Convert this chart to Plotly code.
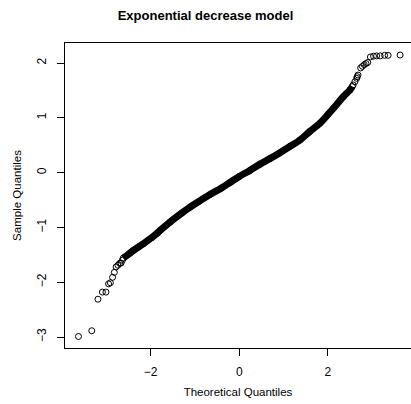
import plotly.graph_objects as go

# Lower tail points (theoretical quantile, sample quantile)
tail_low_x = [-3.63, -3.33, -3.19, -3.09, -3.01, -2.95, -2.91, -2.86, -2.82, -2.78, -2.74, -2.70, -2.67, -2.64]
tail_low_y = [-2.99, -2.885, -2.31, -2.18, -2.18, -2.03, -2.01, -1.91, -1.82, -1.72, -1.69, -1.655, -1.65, -1.60]

# Dense central band (read along the band's centre)
band_x = [-2.62, -2.47, -2.39, -2.17, -1.98, -1.86, -1.78, -1.56, -1.30, -1.11, -0.90, -0.66, -0.40,
          -0.21, 0.00, 0.24, 0.47, 0.70, 0.91, 1.15, 1.37, 1.59, 1.82, 2.00, 2.12, 2.35, 2.50, 2.55]
band_y = [-1.56, -1.47, -1.42, -1.30, -1.19, -1.11, -1.05, -0.90, -0.74, -0.63, -0.52, -0.40, -0.28,
          -0.18, -0.07, 0.04, 0.155, 0.26, 0.36, 0.48, 0.595, 0.75, 0.90, 1.06, 1.17, 1.385, 1.51, 1.57]

# Upper tail points
tail_high_x = [2.57, 2.61, 2.65, 2.66, 2.68, 2.74, 2.78, 2.82, 2.86, 2.90, 2.96, 3.03, 3.10, 3.18, 3.28, 3.36, 3.63]
tail_high_y = [1.60, 1.66, 1.72, 1.75, 1.78, 1.91, 1.94, 1.97, 1.99, 2.01, 2.11, 2.125, 2.13, 2.13, 2.14, 2.14, 2.145]

x_ticks = [-2, 0, 2]
y_ticks = [-3, -2, -1, 0, 1, 2]

title_text = "Exponential decrease model"
x_title = "Theoretical Quantiles"
y_title = "Sample Quantiles"

FONT = "Liberation Sans, Arial, Helvetica, sans-serif"
marker = dict(symbol="circle-open", size=6, color="black", line=dict(width=1, color="black"))

fig = go.Figure()
fig.add_trace(go.Scatter(x=band_x, y=band_y, mode="lines+markers",
                         line=dict(color="black", width=7, shape="spline"),
                         marker=marker, hoverinfo="skip"))
fig.add_trace(go.Scatter(x=tail_low_x, y=tail_low_y, mode="markers", marker=marker))
fig.add_trace(go.Scatter(x=tail_high_x, y=tail_high_y, mode="markers", marker=marker))

fig.update_layout(
    width=411, height=404,
    margin=dict(l=65, r=0, t=43, b=56),
    paper_bgcolor="white", plot_bgcolor="white",
    showlegend=False,
    font=dict(family=FONT, color="black", size=12),
    title=dict(text="<b>" + title_text + "</b>", x=0.5, xanchor="center",
               y=1 - 15 / 404, yanchor="middle", yref="container",
               font=dict(size=13, family=FONT, color="black")),
    xaxis=dict(range=[-3.934, 3.876], tickvals=x_ticks, ticktext=["\u22122", "0", "2"],
               ticks="outside", ticklen=7, tickwidth=1, tickcolor="black",
               showline=True, linecolor="black", linewidth=1, mirror=True,
               showgrid=False, zeroline=False, ticklabelstandoff=6,
               tickfont=dict(size=12),
               title=dict(text=x_title, font=dict(size=11.5), standoff=9)),
    yaxis=dict(range=[-3.20, 2.365], tickvals=y_ticks,
               ticktext=["\u22123", "\u22122", "\u22121", "0", "1", "2"],
               ticks="outside", ticklen=7, tickwidth=1, tickcolor="black",
               showline=True, linecolor="black", linewidth=1, mirror=False,
               showgrid=False, zeroline=False, tickangle=-90, ticklabelstandoff=6,
               tickfont=dict(size=12),
               title=dict(text=y_title, font=dict(size=11.5), standoff=11)),
)

fig.write_html("out.html")
